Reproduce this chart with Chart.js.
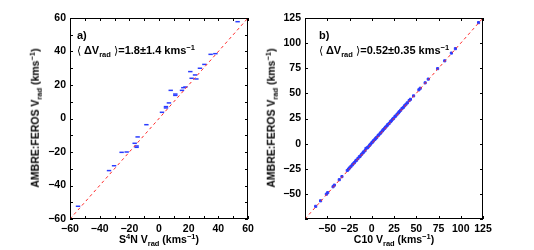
<!DOCTYPE html>
<html>
<head>
<meta charset="utf-8">
<script src="https://cdn.jsdelivr.net/npm/chart.js@4.4.0/dist/chart.umd.min.js"></script>
<style>
  body { margin: 0; background: #fff; }
  #wrap { position: relative; width: 534px; height: 250px; font-family: "Liberation Sans", Arial, sans-serif; font-weight: bold; font-size: 10.5px; color: #000; }
  canvas { position: absolute; top: 0; }
  .txt { position: absolute; white-space: nowrap; line-height: 1; }
  .txt sub, .txt sup { font-size: 7.5px; line-height: 0; }
  .txt sub { vertical-align: -3px; }
  .txt sup { vertical-align: 4px; }
  .note { font-size: 11px; }
  .ytitle { transform: translate(-50%, -50%) rotate(-90deg); }
  .xtitle { transform: translate(-50%, -50%); }
  .br { font-family: "DejaVu Sans", sans-serif; font-weight: normal; }
</style>
</head>
<body>
<div id="wrap">
  <canvas id="c1" width="267" height="250" style="left:0"></canvas>
  <canvas id="c2" width="267" height="250" style="left:267px"></canvas>

  <div class="txt note" style="left:77px;top:30px">a)</div>
  <div class="txt note" style="left:77px;top:45px"><span class="br">⟨</span> ΔV<sub>rad</sub> <span class="br">⟩</span>=1.8±1.4 kms<sup>−1</sup></div>
  <div class="txt ytitle" style="left:35px;top:118px">AMBRE:FEROS V<sub>rad</sub> (kms<sup>−1</sup>)</div>
  <div class="txt xtitle" style="left:159px;top:239px">S<sup>4</sup>N V<sub>rad</sub> (kms<sup>−1</sup>)</div>

  <div class="txt note" style="left:319px;top:30px">b)</div>
  <div class="txt note" style="left:319px;top:45px"><span class="br">⟨</span> ΔV<sub>rad</sub> <span class="br">⟩</span>=0.52±0.35 kms<sup>−1</sup></div>
  <div class="txt ytitle" style="left:271px;top:118px">AMBRE:FEROS V<sub>rad</sub> (kms<sup>−1</sup>)</div>
  <div class="txt xtitle" style="left:394px;top:239px">C10 V<sub>rad</sub> (kms<sup>−1</sup>)</div>
</div>
<script>
// panel a: S4N vs AMBRE:FEROS
const s4nX = [53, 38, 34.8, 30.6, 27.6, 21.1, 24.3, 22.0, 25.2, 7.9, 11.0, 11.0, 17.8, 16.4, 15.5, 6.7, 4.7, 4.7, 2.0, -8.5, -14.4, -16.4, -15.1, -15.1, -21.8, -25.2, -30.3, -33.7, -54.6];
const s4nY = [57.8, 38.7, 38.3, 32.3, 30.0, 28.0, 26.0, 24.0, 23.6, 16.8, 14.6, 13.8, 18.8, 18.4, 16.8, 9.3, 7.1, 6.3, 3.7, -3.7, -11.0, -14.8, -16.4, -17.2, -20.0, -20.2, -28.2, -31.1, -52.4];
const rangeA = [-60, 60];
const stepA = 10;

// panel b: C10 vs AMBRE:FEROS
const c10X = [-63, -57.5, -51, -49.5, -43.5, -42, -36.5, -33.5, -27.5, -26, -25, -23.5, -22, -21, -19.5, -18, -17, -15.5, -14, -13, -11.5, -10, -9, -7.5, -6.5, -5, -4, -2.5, -1.5, 0, 1, 2, 3.5, 4.5, 5.5, 7, 8, 9.5, 10.5, 12, 13, 14.5, 15.5, 17, 18, 19.5, 21, 22, 23.5, 24.5, 26, 27, 28.5, 30, 31, 32.5, 34, 35.5, 37, 38.5, 40, 42, 43.5, 47, 53, 54.5, 60, 63.5, 74, 82, 89.5, 94, 120];
const c10Y = [-62.4, -56.9, -50.3, -48.8, -42.9, -41.3, -35.9, -32.8, -26.7, -25.3, -24.2, -22.9, -21.3, -20.2, -18.9, -17.2, -16.4, -14.8, -13.2, -12.4, -10.7, -9.3, -8.2, -6.9, -4.8, -4.2, -3.3, -1.8, -0.6, 0.8, 1.7, 2.9, 4.2, 5.3, 6.1, 7.8, 8.7, 10.2, 11.3, 12.7, 13.9, 15.2, 16.4, 17.6, 18.9, 20.1, 21.8, 22.7, 24.3, 25.1, 26.8, 27.6, 29.3, 30.6, 31.8, 33.2, 34.9, 36.1, 37.7, 39.2, 40.6, 42.8, 44.1, 47.5, 53.6, 55.1, 60.5, 64.2, 74.6, 82.4, 90.1, 94.5, 120.4];
const rangeB = [-75, 125];
const stepB = 25;

const fontTick = { family: "'Liberation Sans', Arial, sans-serif", size: 10.5, weight: 'bold' };

// MATLAB-like box with inward ticks on all four sides
const boxTicks = {
  id: 'boxTicks',
  afterDraw(chart) {
    const { ctx, chartArea: { left, right, top, bottom }, scales: { x, y } } = chart;
    ctx.save();
    ctx.strokeStyle = '#000';
    ctx.lineWidth = 1;
    ctx.strokeRect(left + 0.5, top + 0.5, right - left - 1, bottom - top - 1);
    ctx.beginPath();
    x.ticks.forEach(t => {
      const px = Math.round(x.getPixelForValue(t.value)) + 0.5;
      ctx.moveTo(px, bottom); ctx.lineTo(px, bottom - 3);
      ctx.moveTo(px, top); ctx.lineTo(px, top + 3);
    });
    y.ticks.forEach(t => {
      const py = Math.round(y.getPixelForValue(t.value)) + 0.5;
      ctx.moveTo(left, py); ctx.lineTo(left + 3, py);
      ctx.moveTo(right, py); ctx.lineTo(right - 3, py);
    });
    ctx.stroke();
    ctx.restore();
  }
};

function makePanel(id, xs, ys, range, step, labelEvery, hideMin, yWidth, padRight, marker) {
  const pts = xs.map((v, i) => ({ x: v, y: ys[i] }));
  const fmt = v => {
    if (hideMin && v === range[0]) return '';
    if (v % labelEvery !== 0) return '';
    return String(v).replace('-', '\u2212');
  };
  const axis = (pos) => ({
    type: 'linear', position: pos, min: range[0], max: range[1],
    grid: { display: false, drawTicks: false },
    border: { display: false },
    ticks: { stepSize: step, autoSkip: false, maxRotation: 0, padding: 4, color: '#000', font: fontTick, callback: fmt },
    afterFit(s) { if (pos === 'left') s.width = yWidth; else s.height = 31; }
  });
  new Chart(document.getElementById(id), {
    type: 'scatter',
    data: {
      datasets: [
        {
          data: [{ x: range[0], y: range[0] }, { x: range[1], y: range[1] }],
          showLine: true, borderColor: '#ff2828', borderWidth: 1, borderDash: [3, 3],
          pointRadius: 0, order: 0
        },
        {
          data: pts, pointStyle: marker.style, pointRadius: marker.r,
          backgroundColor: '#2a3cff', borderColor: '#2a3cff', borderWidth: marker.bw, order: 1
        }
      ]
    },
    options: {
      responsive: false, animation: false,
      layout: { padding: { top: 18, right: padRight, left: 0, bottom: 0 } },
      plugins: { legend: { display: false }, tooltip: { enabled: false } },
      scales: { x: axis('bottom'), y: axis('left') }
    },
    plugins: [boxTicks]
  });
}

makePanel('c1', s4nX, s4nY, rangeA, stepA, 20, false, 70, 19, { style: 'line', r: 2.2, bw: 1.5 });
makePanel('c2', c10X, c10Y, rangeB, stepB, 25, true, 38, 51, { style: 'rect', r: 1.5, bw: 1 });
</script>
</body>
</html>
